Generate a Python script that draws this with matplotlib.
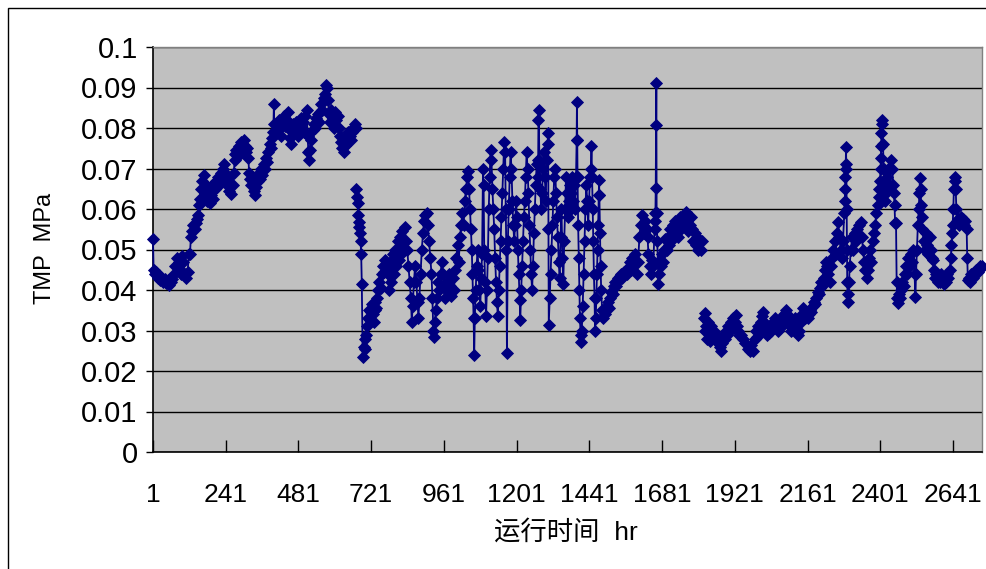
import matplotlib
matplotlib.use("Agg")
import matplotlib.pyplot as plt
from matplotlib.patches import Rectangle

# ---------------- data (hour, TMP in MPa) ----------------
seg1 = [(1,0.0525),(3,0.0450),(8,0.0440),(12,0.0445),(16,0.0430),(20,0.0438),(25,0.0425),(30,0.0430),
(35,0.0420),(40,0.0428),(45,0.0418),(50,0.0425),(55,0.0413),(60,0.0420),(65,0.0428),(70,0.0440),(75,0.0460),
(80,0.0480),(84,0.0455),(88,0.0470),(92,0.0440),(96,0.0485),(100,0.0470),(105,0.0440),(110,0.0430),(115,0.0445),
(120,0.0490),(123,0.0490),(126,0.0530),(130,0.0545),(134,0.0560),(138,0.0550),(142,0.0565),(146,0.0575),
(150,0.0585),(152,0.0610),(156,0.0625),(160,0.0650),(164,0.0670),(168,0.0685),(172,0.0640),(176,0.0660),
(180,0.0620),(184,0.0645),(188,0.0615),(192,0.0635),(196,0.0660),(200,0.0625),(204,0.0650),(208,0.0670),
(212,0.0655),(216,0.0680),(220,0.0665),(224,0.0690),(228,0.0670),(232,0.0700),(236,0.0710),(240,0.0690),
(244,0.0660),(248,0.0680),(252,0.0645),(256,0.0665),(260,0.0638),(264,0.0660),(268,0.0690),(270,0.0720),
(272,0.0735),(276,0.0745),(280,0.0730),(284,0.0755),(288,0.0740),(292,0.0765),(296,0.0750),(300,0.0770),
(304,0.0755),(308,0.0740),(312,0.0750),(316,0.0725),(318,0.0690),(322,0.0675),(326,0.0660),(330,0.0680),
(334,0.0645),(338,0.0635),(342,0.0655),(346,0.0670),(350,0.0690),(354,0.0675),(358,0.0700),(362,0.0685),
(366,0.0710),(370,0.0700),(374,0.0725),(378,0.0715),(382,0.0740),(386,0.0760),(390,0.0750),(394,0.0775),
(398,0.0790),(400,0.0860),(401,0.0810),(404,0.0790),(408,0.0810),(412,0.0795),(416,0.0820),(420,0.0800),
(424,0.0780),(428,0.0815),(432,0.0830),(436,0.0805),(440,0.0805),(444,0.0820),(448,0.0840),(452,0.0775),
(456,0.0760),(460,0.0790),(464,0.0810),(468,0.0795),(472,0.0815),(476,0.0800),(480,0.0780),(484,0.0810),
(488,0.0825),(492,0.0800),(496,0.0815),(500,0.0790),(504,0.0830),(508,0.0845),(511,0.0780),(514,0.0740),
(517,0.0722),(520,0.0745),(524,0.0770),(528,0.0795),(532,0.0810),(536,0.0800),(540,0.0825),(544,0.0835),
(548,0.0815),(552,0.0840),(556,0.0860),(560,0.0845),(564,0.0875),(568,0.0885),(572,0.0905),(575,0.0900),
(578,0.0870),(582,0.0835),(586,0.0815),(590,0.0845),(594,0.0825),(598,0.0800),(602,0.0840),(606,0.0820),
(610,0.0830),(614,0.0800),(618,0.0780),(622,0.0765),(626,0.0750),(630,0.0740),(634,0.0755),(638,0.0760),
(642,0.0775),(646,0.0790),(650,0.0780),(654,0.0770),(658,0.0790),(662,0.0800),(666,0.0810),(670,0.0800)]

seg2 = [(672,0.0650),(674,0.0630),(676,0.0615),(678,0.0585),(680,0.0568),(682,0.0555),(684,0.0540),
(686,0.0520),(688,0.0488),(690,0.0416),(693,0.0235),(696,0.0260),(699,0.0280),(702,0.0255),(705,0.0290),
(708,0.0310),(711,0.0330),(714,0.0350),(717,0.0325),(720,0.0345),(723,0.0365),(726,0.0340),(729,0.0320),
(732,0.0350),(735,0.0370),(738,0.0355),(741,0.0380),(744,0.0400),(748,0.0420),(752,0.0405),(756,0.0440),
(760,0.0460),(764,0.0445),(768,0.0475),(772,0.0455),(776,0.0440),(780,0.0400),(784,0.0470),(788,0.0420),
(792,0.0490),(796,0.0440),(800,0.0500),(804,0.0460),(808,0.0520),(812,0.0475),(816,0.0530),(820,0.0490),
(824,0.0545),(828,0.0500),(832,0.0555),(836,0.0520),(840,0.0500),(844,0.0460),(848,0.0420),(852,0.0380),
(855,0.0320),(858,0.0360),(862,0.0420),(866,0.0460),(870,0.0420),(874,0.0370),(877,0.0330),(880,0.0380),
(884,0.0440),(888,0.0500),(892,0.0540),(896,0.0570),(900,0.0585),(904,0.0590),(908,0.0560),(912,0.0520),
(916,0.0480),(920,0.0440),(923,0.0380),(926,0.0300),(928,0.0285),(931,0.0320),(934,0.0350),(938,0.0380),
(942,0.0420),(946,0.0400),(950,0.0440),(954,0.0470),(958,0.0440),(962,0.0410),(966,0.0380),(970,0.0420),
(974,0.0395),(978,0.0440),(982,0.0410),(986,0.0385),(990,0.0430),(994,0.0400),(998,0.0450),(1002,0.0480),
(1006,0.0510),(1010,0.0470),(1014,0.0530),(1018,0.0560),(1022,0.0590),(1026,0.0560),(1030,0.0620),
(1034,0.0650),(1038,0.0680),(1041,0.0695),(1044,0.0650),(1047,0.0600),(1050,0.0550),(1053,0.0500),
(1055,0.0440),(1057,0.0380),(1059,0.0330),(1061,0.0240),(1063,0.0330),(1066,0.0400),(1069,0.0460),
(1072,0.0500),(1075,0.0450),(1078,0.0400),(1081,0.0360),(1084,0.0430),(1087,0.0490),(1090,0.0700),
(1092,0.0660),(1094,0.0500),(1097,0.0420),(1100,0.0335),(1103,0.0400),(1106,0.0480),(1109,0.0600),
(1112,0.0680),(1115,0.0745),(1118,0.0720),(1121,0.0650),(1124,0.0600),(1127,0.0550),(1130,0.0480),
(1133,0.0420),(1136,0.0370),(1139,0.0335),(1142,0.0400),(1145,0.0460),(1148,0.0520),(1151,0.0580),
(1154,0.0640),(1157,0.0700),(1160,0.0765),(1163,0.0740),(1165,0.0600),(1167,0.0500),(1169,0.0244),
(1172,0.0520),(1175,0.0600),(1178,0.0680),(1181,0.0740),(1184,0.0700),(1187,0.0620),(1190,0.0560),
(1193,0.0520),(1196,0.0560),(1199,0.0620),(1202,0.0580),(1205,0.0500),(1208,0.0440),(1211,0.0375),
(1213,0.0326),(1216,0.0400),(1219,0.0460),(1222,0.0520),(1225,0.0580),(1228,0.0620),(1231,0.0680),
(1234,0.0740),(1237,0.0700),(1240,0.0640),(1243,0.0560),(1246,0.0500),(1249,0.0440),(1252,0.0400),
(1255,0.0460),(1258,0.0540),(1261,0.0600),(1264,0.0660),(1267,0.0710),(1270,0.0680),(1272,0.0720),
(1273,0.0820),(1274,0.0844),(1276,0.0720),(1279,0.0650),(1282,0.0600),(1285,0.0640),(1288,0.0700),
(1291,0.0740),(1294,0.0680),(1297,0.0620),(1300,0.0720),(1303,0.0760),(1305,0.0787),(1306,0.0550),
(1307,0.0314),(1310,0.0380),(1313,0.0440),(1316,0.0500),(1319,0.0560),(1322,0.0620),(1325,0.0680),
(1328,0.0700),(1331,0.0640),(1334,0.0580),(1337,0.0530),(1340,0.0470),(1343,0.0430),(1346,0.0530),
(1349,0.0600),(1352,0.0480),(1355,0.0416),(1358,0.0520),(1361,0.0600),(1364,0.0680),(1367,0.0640),
(1370,0.0580),(1373,0.0620),(1376,0.0660),(1379,0.0600),(1382,0.0640),(1385,0.0680),(1388,0.0620),
(1391,0.0660),(1394,0.0600),(1397,0.0680),(1399,0.0770),(1400,0.0865),(1401,0.0770),(1402,0.0680),
(1404,0.0560),(1406,0.0480),(1408,0.0400),(1410,0.0330),(1412,0.0290),(1414,0.0272),(1416,0.0300),
(1419,0.0360),(1422,0.0440),(1425,0.0520),(1428,0.0600),(1431,0.0660),(1434,0.0620),(1437,0.0560),
(1440,0.0620),(1443,0.0680),(1446,0.0700),(1448,0.0755),(1450,0.0680),(1452,0.0600),(1454,0.0520),
(1456,0.0440),(1458,0.0380),(1460,0.0298),(1462,0.0330),(1464,0.0380),(1466,0.0440),(1468,0.0500),
(1470,0.0560),(1472,0.0635),(1473,0.0672),(1474,0.0635),(1476,0.0540),(1478,0.0460),(1480,0.0400),
(1483,0.0350),(1486,0.0330),(1490,0.0350),(1494,0.0340),(1498,0.0360),(1502,0.0370),(1506,0.0355),
(1510,0.0380),(1514,0.0395),(1518,0.0390),(1522,0.0410),(1526,0.0420),(1530,0.0410),(1534,0.0430),
(1538,0.0425),(1542,0.0435),(1546,0.0440),(1550,0.0430),(1554,0.0445),(1558,0.0440),(1562,0.0450),
(1566,0.0440),(1570,0.0455),(1574,0.0470),(1578,0.0450),(1582,0.0480),(1586,0.0460),(1590,0.0490),
(1594,0.0470),(1598,0.0440),(1602,0.0470),(1606,0.0530),(1610,0.0560),(1614,0.0585),(1618,0.0560),
(1622,0.0540),(1626,0.0570),(1630,0.0550),(1633,0.0530),(1636,0.0490),(1640,0.0460),(1644,0.0440),
(1648,0.0475),(1652,0.0460),(1656,0.0550),(1658,0.0570),(1659,0.0590),(1660,0.0653),(1661,0.0807),
(1662,0.0910),(1663,0.0590),(1665,0.0520),(1667,0.0470),(1669,0.0416),(1672,0.0440),(1676,0.0460),
(1680,0.0490),(1684,0.0470),(1688,0.0500),(1692,0.0525),(1696,0.0500),(1700,0.0530),(1704,0.0510),
(1708,0.0550),(1712,0.0520),(1716,0.0560),(1720,0.0540),(1724,0.0570),(1728,0.0550),(1732,0.0530),
(1736,0.0560),(1740,0.0580),(1744,0.0550),(1748,0.0575),(1752,0.0560),(1756,0.0585),(1760,0.0593),
(1764,0.0570),(1768,0.0545),(1772,0.0560),(1776,0.0580),(1780,0.0550),(1784,0.0520),(1788,0.0540),
(1792,0.0510),(1796,0.0530),(1800,0.0500),(1804,0.0520),(1808,0.0500),(1813,0.0520)]

seg3 = [(1818,0.0330),(1821,0.0300),(1824,0.0342),(1827,0.0310),(1830,0.0280),(1833,0.0320),(1836,0.0295),
(1840,0.0275),(1844,0.0310),(1848,0.0290),(1852,0.0300),(1856,0.0280),(1860,0.0290),(1864,0.0270),
(1868,0.0285),(1872,0.0260),(1876,0.0250),(1880,0.0270),(1884,0.0290),(1888,0.0280),(1892,0.0300),
(1896,0.0290),(1900,0.0310),(1904,0.0300),(1908,0.0320),(1912,0.0310),(1916,0.0330),(1920,0.0320),
(1924,0.0338),(1928,0.0310),(1932,0.0300),(1936,0.0290),(1940,0.0290),(1948,0.0280),(1956,0.0270),
(1964,0.0255),(1970,0.0250),(1976,0.0265),(1982,0.0250),(1986,0.0280),(1990,0.0300),(1994,0.0285),
(1998,0.0310),(2002,0.0300),(2006,0.0320),(2010,0.0335),(2014,0.0345),(2018,0.0320),(2022,0.0300),
(2026,0.0290),(2030,0.0305),(2034,0.0295),(2038,0.0310),(2042,0.0300),(2046,0.0320),(2050,0.0310),
(2054,0.0330),(2058,0.0315),(2062,0.0300),(2066,0.0320),(2070,0.0305),(2074,0.0330),(2078,0.0320),
(2082,0.0340),(2086,0.0325),(2090,0.0350),(2094,0.0340),(2098,0.0320),(2102,0.0310),(2106,0.0300),
(2110,0.0320),(2114,0.0310),(2118,0.0330),(2122,0.0310),(2126,0.0300),(2130,0.0290),(2134,0.0300),
(2138,0.0320),(2142,0.0340),(2146,0.0355),(2150,0.0340),(2154,0.0330),(2158,0.0345),(2162,0.0330),
(2166,0.0340),(2170,0.0350),(2174,0.0345),(2178,0.0360),(2182,0.0370),(2186,0.0365),(2190,0.0380),
(2194,0.0395),(2198,0.0390),(2202,0.0405),(2206,0.0420),(2210,0.0410),(2214,0.0430),(2218,0.0450),
(2222,0.0470),(2226,0.0460),(2230,0.0440),(2234,0.0420),(2238,0.0460),(2242,0.0480),(2246,0.0500),
(2250,0.0520),(2254,0.0490),(2258,0.0540),(2262,0.0568),(2266,0.0530),(2270,0.0500),(2274,0.0480),
(2278,0.0520),(2282,0.0590),(2284,0.0620),(2285,0.0650),(2286,0.0680),(2287,0.0710),(2288,0.0753),
(2289,0.0700),(2290,0.0600),(2291,0.0500),(2292,0.0420),(2294,0.0370),(2296,0.0390),(2298,0.0420),
(2300,0.0460),(2304,0.0500),(2308,0.0530),(2312,0.0500),(2316,0.0540),(2320,0.0520),(2324,0.0550),
(2328,0.0530),(2332,0.0560),(2336,0.0568),(2340,0.0530),(2344,0.0500),(2348,0.0470),(2352,0.0450),
(2356,0.0430),(2360,0.0450),(2364,0.0480),(2368,0.0500),(2372,0.0470),(2376,0.0520),(2380,0.0540),
(2384,0.0560),(2388,0.0590),(2392,0.0610),(2396,0.0630),(2398,0.0650),(2400,0.0670),(2402,0.0700),
(2403,0.0725),(2404,0.0755),(2405,0.0787),(2406,0.0820),(2408,0.0810),(2410,0.0760),(2412,0.0700),
(2414,0.0650),(2416,0.0620),(2418,0.0660),(2420,0.0640),(2424,0.0680),(2428,0.0700),(2432,0.0660),
(2436,0.0720),(2440,0.0700),(2444,0.0660),(2446,0.0640),(2448,0.0610),(2450,0.0565),(2453,0.0565),
(2455,0.0420),(2457,0.0380),(2460,0.0367),(2463,0.0390),(2466,0.0380),(2470,0.0400),(2474,0.0420),
(2478,0.0410),(2482,0.0440),(2486,0.0460),(2490,0.0440),(2494,0.0480),(2498,0.0460),(2502,0.0490),
(2506,0.0470),(2510,0.0500),(2514,0.0440),(2517,0.0383),(2519,0.0440),(2522,0.0500),(2525,0.0560),
(2528,0.0600),(2530,0.0640),(2532,0.0676),(2534,0.0650),(2536,0.0610),(2538,0.0580),(2540,0.0550),
(2544,0.0520),(2548,0.0500),(2552,0.0540),(2556,0.0510),(2560,0.0490),(2564,0.0530),(2568,0.0500),
(2572,0.0480),(2576,0.0474),(2578,0.0450),(2582,0.0430),(2586,0.0440),(2590,0.0420),(2594,0.0435),
(2598,0.0420),(2602,0.0440),(2606,0.0425),(2610,0.0415),(2614,0.0430),(2618,0.0420),(2622,0.0440),
(2626,0.0430),(2630,0.0450),(2634,0.0480),(2636,0.0510),(2638,0.0540),(2640,0.0560),(2642,0.0600),
(2644,0.0650),(2646,0.0680),(2648,0.0670),(2650,0.0650),(2652,0.0600),(2654,0.0570),(2658,0.0575),
(2662,0.0560),(2666,0.0580),(2670,0.0565),(2674,0.0575),(2678,0.0560),(2682,0.0570),(2686,0.0550),
(2688,0.0480),(2690,0.0425),(2694,0.0430),(2698,0.0420),(2702,0.0440),(2706,0.0430),(2710,0.0445),
(2714,0.0440),(2718,0.0450),(2722,0.0445),(2726,0.0455),(2730,0.0460),(2734,0.0455),(2738,0.0460)]

x_ticks = [1, 241, 481, 721, 961, 1201, 1441, 1681, 1921, 2161, 2401, 2641]
y_ticks = [0, 0.01, 0.02, 0.03, 0.04, 0.05, 0.06, 0.07, 0.08, 0.09, 0.1]
y_labels = ['0', '0.01', '0.02', '0.03', '0.04', '0.05', '0.06', '0.07', '0.08', '0.09', '0.1']
x_title = '运行时间  hr'
y_title = 'TMP  MPa'

# ---------------- figure ----------------
plt.rcParams['font.family'] = ['Liberation Sans', 'Noto Sans CJK SC', 'DejaVu Sans']
W, H = 987, 569
fig = plt.figure(figsize=(W / 100, H / 100), dpi=100)
fig.patch.set_facecolor('white')

# outer chart-area border (continues past the right / bottom edges)
fig.add_artist(Rectangle((8 / W, -0.2), 1.2, (H - 8) / H + 0.2, transform=fig.transFigure,
                         fill=False, edgecolor='black', lw=1.0))

L, R, T, B = 153, 982, 47, 452
ax = fig.add_axes([L / W, 1 - B / H, (R - L) / W, (B - T) / H])
ax.set_facecolor('#C0C0C0')

NAVY = '#000080'
for seg in (seg1, seg2, seg3):
    hrs = [p[0] for p in seg]
    vals = [p[1] for p in seg]
    ax.plot(hrs, vals, color=NAVY, lw=1.3, marker='D', markersize=5.8,
            markerfacecolor=NAVY, markeredgecolor=NAVY, markeredgewidth=0.6,
            clip_on=False, zorder=3)

ax.set_xlim(1, 1 + (R - L) / 0.30303)
ax.set_ylim(0, 0.1)

ax.set_yticks(y_ticks)
ax.set_yticklabels(y_labels)
ax.set_xticks(x_ticks)
ax.set_xticklabels([str(t) for t in x_ticks])

ax.grid(axis='y', color='black', lw=1.0, zorder=1)
ax.set_axisbelow(True)

for s in ('top', 'right'):
    ax.spines[s].set_color('#808080')
    ax.spines[s].set_linewidth(1.0)
for s in ('left', 'bottom'):
    ax.spines[s].set_color('black')
    ax.spines[s].set_linewidth(1.2)

ax.tick_params(axis='y', direction='out', length=5, width=1, colors='black',
               labelsize=21, pad=6)
ax.tick_params(axis='x', direction='in', length=9, width=1, colors='black',
               labelsize=19, pad=22)

fig.text(45 / W, 1 - 248 / H, y_title, rotation=90, ha='center', va='center', fontsize=17)
fig.text(566 / W, 1 - 532 / H, x_title, ha='center', va='center', fontsize=19)

fig.savefig('out.png', dpi=100, facecolor='white')
